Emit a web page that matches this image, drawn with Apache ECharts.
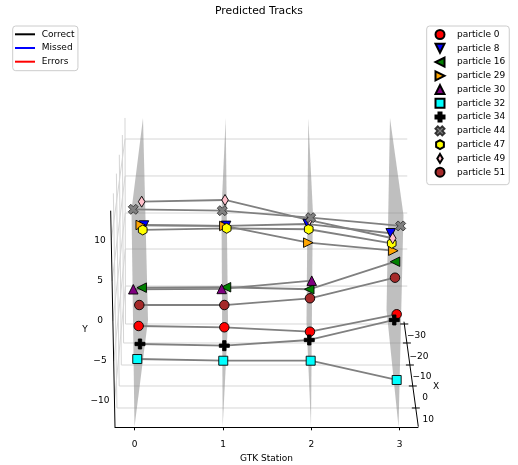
<!DOCTYPE html>
<html><head><meta charset="utf-8">
<script src="https://cdn.jsdelivr.net/npm/echarts@6/dist/echarts.min.js"></script>
<style>html,body{margin:0;padding:0;background:#fff}#c{width:518px;height:465px}</style>
</head><body><div id="c"></div>
<script>
// ---------------- data ----------------
const stations = [0, 1, 2, 3];
const yTickValues = [-10, -5, 0, 5, 10];
const depthTickLabels = ['\u221230', '\u221220', '\u221210', '0', '10'];
const statusNames = ['Correct', 'Missed', 'Errors'];
const particleNames = ['particle 0','particle 8','particle 16','particle 29','particle 30','particle 32','particle 34','particle 44','particle 47','particle 49','particle 51'];
// [projected station position, Y]
const p0  = [[0.045,-0.66],[1.015,-0.82],[1.985,-1.37],[2.967,0.80]];
const p8  = [[0.105,11.85],[1.035,11.80],[1.959,12.03],[2.899,10.88]];
const p16 = [[0.079,4.11],[1.034,4.16],[1.977,3.91],[2.948,7.34]];
const p29 = [[0.068,11.91],[1.015,11.79],[1.966,9.71],[2.929,8.71]];
const p30 = [[-0.016,3.91],[0.985,3.95],[2.005,4.98]];
const p32 = [[0.029,-4.77],[1.003,-4.98],[1.993,-4.98],[2.967,-7.38]];
const p34 = [[0.060,-2.90],[1.015,-3.11],[1.977,-2.40],[2.940,0.09]];
const p44 = [[-0.016,13.86],[0.992,13.69],[1.993,12.82],[3.012,11.79]];
const p47 = [[0.091,11.29],[1.042,11.50],[1.971,11.38],[2.911,9.63]];
const p49 = [[0.079,14.81],[1.023,15.02],[1.977,12.53],[2.922,10.26]];
const p51 = [[0.052,1.95],[1.015,1.95],[1.985,2.79],[2.948,5.35]];
const particleData = [p0,p8,p16,p29,p30,p32,p34,p44,p47,p49,p51];

// ---------------- styles / 3D frame geometry (axis units) ----------------
const markerStyles = [
  {symbol:'circle', color:'#ff0000'},
  {symbol:'path://M0,0L2,0L1,2Z', color:'#0000ff'},
  {symbol:'path://M2,0L2,2L0,1Z', color:'#008000'},
  {symbol:'path://M0,0L2,1L0,2Z', color:'#ffa500'},
  {symbol:'triangle', color:'#800080'},
  {symbol:'rect', color:'#00ffff', size:9},
  {symbol:'path://M1,0H2V1H3V2H2V3H1V2H0V1H1Z', color:'#000000', size:10},
  {symbol:'path://M0,1L1,0L2,1L3,0L4,1L3,2L4,3L3,4L2,3L1,4L0,3L1,2Z', color:'#808080', size:10, border:'#333'},
  {symbol:'path://M0,-1L0.866,-0.5L0.866,0.5L0,1L-0.866,0.5L-0.866,-0.5Z', color:'#ffff00', size:10},
  {symbol:'path://M0,-10L6,0L0,10L-6,0Z', color:'#ffc0cb', size:11},
  {symbol:'circle', color:'#a52a2a'}
];
// draw order (index into particle arrays): 44 above 49
const drawOrder = [0,1,2,3,4,5,6,8,9,7,10];

const planes = [
  [[0.094,25.23],[0.1506,0.087],[-0.0023,-13.23],[-0.0362,13.78]],
  [[1.0306,25.23],[1.0566,-0.16],[0.9966,-13.23],[0.983,13.78]],
  [[1.966,25.23],[1.9456,-0.16],[1.9966,-13.23],[2.017,13.78]],
  [[2.891,25.23],[2.852,1.33],[2.988,-13.23],[3.044,13.15]]
];
const paneSegs = [
  [-0.1042,-0.411,3.053,-0.411],[-0.1260,-2.776,3.083,-2.776],[-0.1514,-5.514,3.117,-5.514],
  [-0.1755,-8.127,3.149,-8.127],[-0.2009,-10.865,3.183,-10.865],
  [-0.1093,22.61,3.087,22.61],[-0.1083,18.01,3.087,18.01],[-0.1073,13.40,3.087,13.40],
  [-0.1063,8.92,3.087,8.92],[-0.1052,4.31,3.087,4.31],
  [-0.2416,15.847,-0.2009,-10.865],[-0.2070,18.305,-0.1755,-8.127],[-0.1742,20.647,-0.1514,-5.513],
  [-0.1396,23.104,-0.1260,-2.767],[-0.1099,25.227,-0.1042,-0.411],
  [-0.265,10.04,-0.1093,22.61],[-0.256,4.94,-0.1083,18.01],[-0.247,-0.04,-0.1073,13.40],
  [-0.238,-5.02,-0.1063,8.92],[-0.229,-10.0,-0.1052,4.31]
];
const axisSegs = [
  [-0.272,13.69,-0.2231,-13.267],
  [3.0498,-0.124,3.2118,-13.19]
];
const depthTicks = [[3.0532,-0.411],[3.0827,-2.776],[3.1166,-5.514],[3.1495,-8.127],[3.1835,-10.865]];

const FONT = 'DejaVu Sans';
const chart = echarts.init(document.getElementById('c'));

const series = [];
series.push({
  type:'custom', name:'planes', silent:true, z:1, clip:false,
  data: planes.map((p,i)=>[stations[i], 0]),
  encode:{x:0,y:1},
  renderItem(params, api){
    const pts = planes[params.dataIndex].map(q=>api.coord(q));
    return {type:'polygon', shape:{points:pts}, style:{fill:'rgba(128,128,128,0.5)', stroke:null}};
  }
});
series.push({
  type:'custom', name:'panes', silent:true, z:0, clip:false,
  data: paneSegs.map(s=>[s[0],s[1]]), encode:{x:0,y:1},
  renderItem(params, api){
    const s = paneSegs[params.dataIndex];
    const a = api.coord([s[0],s[1]]), b = api.coord([s[2],s[3]]);
    return {type:'line', shape:{x1:a[0],y1:a[1],x2:b[0],y2:b[1]}, style:{stroke:'#d6d6d6', lineWidth:1}};
  }
});
series.push({
  type:'custom', name:'axes3d', silent:true, z:2, clip:false,
  data: axisSegs.map(s=>[s[0],s[1]]), encode:{x:0,y:1},
  renderItem(params, api){
    const s = axisSegs[params.dataIndex];
    const a = api.coord([s[0],s[1]]), b = api.coord([s[2],s[3]]);
    return {type:'line', shape:{x1:a[0],y1:a[1],x2:b[0],y2:b[1]}, style:{stroke:'#000', lineWidth:1}};
  }
});
series.push({
  type:'custom', name:'depthTicks', silent:true, z:2, clip:false,
  data: depthTicks, encode:{x:0,y:1},
  renderItem(params, api){
    const a = api.coord(depthTicks[params.dataIndex]);
    return {type:'line', shape:{x1:a[0]-4,y1:a[1],x2:a[0]+4,y2:a[1]}, style:{stroke:'#000', lineWidth:1}};
  }
});
const statusColors = ['#000000','#0000ff','#ff0000'];
statusNames.forEach((n,i)=>series.push({type:'line', name:n, data:[], color:statusColors[i], symbol:'none'}));
particleData.forEach((d,i)=>series.push({
  type:'line', name:'track '+i, data:d, symbol:'none', silent:true, z:3,
  lineStyle:{color:'#808080', width:1.8}, animation:false
}));
drawOrder.forEach(i=>{
  const m = markerStyles[i];
  series.push({
    type:'scatter', name:particleNames[i], data:particleData[i], z:4,
    symbol:m.symbol, symbolSize:m.size||9.5, symbolKeepAspect:true,
    itemStyle:{color:m.color, borderColor:m.border||'#000', borderWidth:0.9, opacity:1},
    emphasis:{disabled:true}, animation:false
  });
});

const txt = (t,x,y)=>({type:'text', x, y, style:{text:t, font:'9px "'+FONT+'"', fill:'#000', align:'center', verticalAlign:'middle'}});
const depthLabelPos = [[416.5,336],[419,356.3],[422,376.7],[425.2,397.7],[428.3,419.3]];

chart.setOption({
  animation:false,
  backgroundColor:'#fff',
  textStyle:{fontFamily:FONT},
  title:{text:'Predicted Tracks', left:'center', top:6, padding:0,
    textStyle:{fontFamily:FONT, fontSize:10.8, fontWeight:'normal', color:'#000'}},
  grid:{left:115, right:100, top:110, bottom:37.7, outerBoundsMode:'none', containLabel:false},
  xAxis:{type:'value', min:-0.2231, max:3.2084,
    name:'GTK Station', nameLocation:'middle', nameGap:23,
    nameTextStyle:{fontFamily:FONT, fontSize:9, color:'#000'},
    axisLine:{show:true, onZero:false, lineStyle:{color:'#000', width:1}},
    axisTick:{show:true, customValues:stations, length:3, lineStyle:{color:'#000'}},
    axisLabel:{customValues:stations, margin:13, fontSize:9, color:'#000', fontFamily:FONT},
    splitLine:{show:false}},
  yAxis:{type:'value', min:-13.267, max:26.22,
    axisLine:{show:false}, axisTick:{show:false}, splitLine:{show:false},
    axisLabel:{customValues:yTickValues, margin:15, align:'center', fontSize:9, color:'#000', fontFamily:FONT,
      formatter:v=>String(v).replace('-','\u2212')}},
  legend:[
    {data:statusNames, orient:'vertical', left:12.7, top:26, padding:[2.8,3.4,3.5,2.3],
      itemWidth:20, itemHeight:2, itemGap:2.7, icon:'rect',
      backgroundColor:'rgba(255,255,255,0.8)', borderColor:'#cccccc', borderWidth:1, borderRadius:3,
      textStyle:{fontFamily:FONT, fontSize:9, lineHeight:11, color:'#000', padding:[0,0,0,1.7]},
      selectedMode:false},
    {data:particleNames, orient:'vertical', left:426.7, top:26, padding:[3,4,7,7.8],
      itemWidth:9, itemHeight:9, itemGap:2.77,
      backgroundColor:'rgba(255,255,255,0.8)', borderColor:'#cccccc', borderWidth:1, borderRadius:3,
      textStyle:{fontFamily:FONT, fontSize:9, lineHeight:11, color:'#000', padding:[0,0,0,7.5]},
      selectedMode:false}
  ],
  graphic:[
    txt('Y',85,330), txt('X',436,386.7)
  ].concat(depthTickLabels.map((t,i)=>txt(t, depthLabelPos[i][0], depthLabelPos[i][1]))),
  series
});
</script></body></html>
